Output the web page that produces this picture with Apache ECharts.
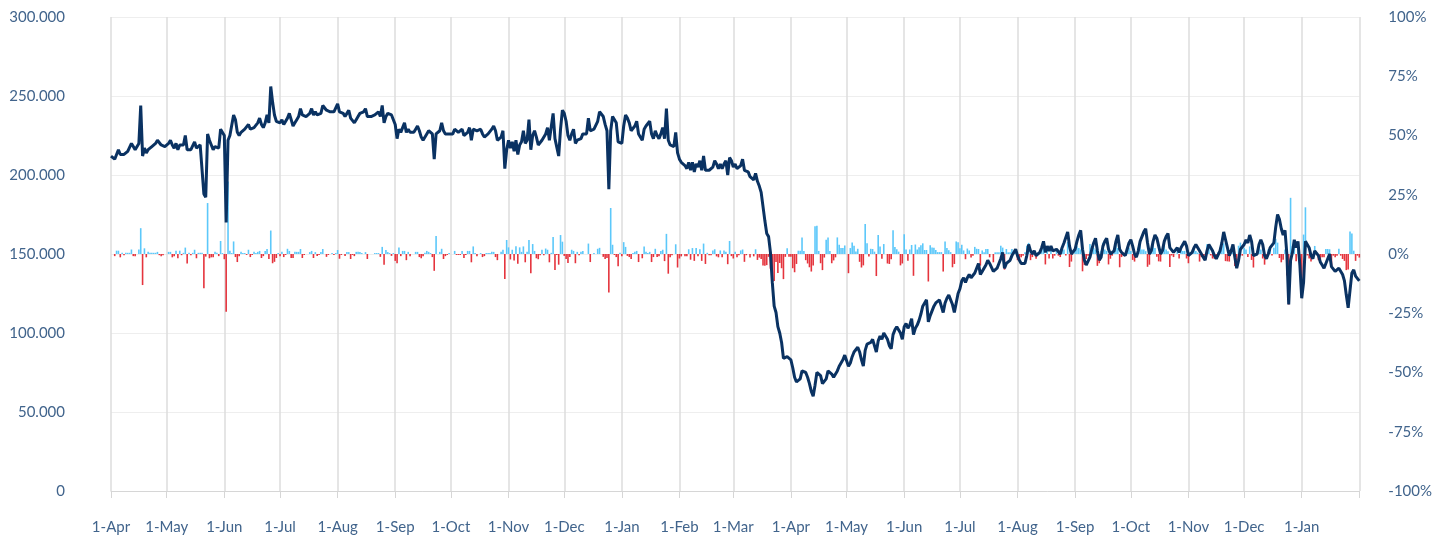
<!DOCTYPE html>
<html>
<head>
<meta charset="utf-8">
<script src="https://cdn.jsdelivr.net/npm/echarts/dist/echarts.min.js"></script>
<style>
  html, body { margin: 0; padding: 0; background: #fff; }
  #chart { width: 1435px; height: 535px; }
</style>
</head>
<body>
<div id="chart"></div>
<script>
// daily values (thousands), one array per month
var apr19 = [212,212,210,213,216,213,214,213,214,215, 216,220,218,216,216,220,244,212,217,214, 216,217,218,219,220,222,221,219,218,218]
var may19 = [218,220,222,219,217,220,216,219,218,219, 225,216,217,216,217,221,217,218,219,220, 188,186,226,222,219,216,218,219,217,229, 230]
var jun19 = [225,170,222,225,226,238,235,227,225,227, 228,229,228,232,229,228,230,231,233,236, 232,230,233,238,233,256,246,238,234,235]
var jul19 = [233,235,232,231,236,239,235,231,233,235, 237,242,238,237,237,237,239,242,238,240, 238,237,239,244,244,241,240,240,241,240, 241]
var aug19 = [245,240,239,239,237,239,241,236,235,233, 235,237,239,240,240,242,237,237,237,237, 238,239,240,237,244,233,237,239,240,238, 239]
var sep19 = [232,223,229,227,230,233,227,229,227,227, 227,229,231,228,224,222,223,226,228,229, 226,210,226,226,228,233,228,226,225,226]
var oct19 = [226,226,229,228,227,226,229,225,224,227, 230,222,229,230,228,228,229,226,224,225, 226,227,229,231,228,222,222,224,228,204, 216]
var nov19 = [222,217,221,215,222,213,219,221,228,220, 222,235,216,225,228,224,219,218,222,221, 226,230,222,223,239,223,222,212,229,241]
var dec19 = [239,234,225,222,226,229,220,222,221,223, 226,226,226,236,228,228,229,229,234,240, 240,237,232,228,191,228,237,236,233,221, 222]
var jan20 = [220,231,238,236,233,228,229,231,234,226, 226,222,229,231,232,234,226,223,228,225, 223,226,230,223,242,222,219,218,218,227, 214]
var feb20 = [210,208,208,206,204,208,203,208,202,207, 205,209,203,212,203,204,203,202,205,209, 207,204,207,204,207,209,200,211,209]
var mar20 = [205,207,204,203,206,210,203,202,202,199, 199,197,201,196,193,189,180,171,163,161, 151,132,117,113,104,100,94,84,83,85, 84]
var apr20 = [83,78,72,69,70,71,76,77,75,72, 68,63,60,67,75,76,73,68,67,71, 76,77,74,72,71,76,79,81,83,86]
var may20 = [86,79,81,85,88,89,91,88,83,79, 89,93,92,94,96,97,88,95,98,96, 100,100,96,92,90,99,102,104,105,100, 96]
var jun20 = [104,106,103,105,109,99,103,105,108,112, 117,119,121,107,111,114,117,119,120,121, 122,113,119,122,124,125,118,113,119,125]
var jul20 = [128,133,135,132,135,137,135,134,138,141, 144,137,139,140,143,146,144,144,139,140, 141,142,147,151,141,144,145,146,149,151, 153]
var aug20 = [149,146,144,143,144,149,156,152,150,152, 149,150,151,154,158,151,155,152,155,152, 151,153,152,150,154,157,156,164,155,150, 150]
var sep20 = [153,158,162,165,153,146,143,142,148,153, 157,160,152,146,148,155,158,160,153,150, 149,152,158,162,153,151,150,149,153,157]
var oct20 = [159,155,150,148,152,158,161,164,166,157, 150,152,158,162,160,155,150,152,158,161, 163,154,153,151,151,154,151,154,156,158, 155]
var nov20 = [149,150,151,154,156,157,152,150,148,146, 152,156,155,152,149,147,148,152,157,164, 159,154,149,152,156,148,141,146,153,152]
var dec20 = [156,159,157,162,158,149,148,150,156,159, 156,149,147,150,154,153,157,167,175,172, 166,162,165,150,118,146,151,159,154,158, 143]
var jan21 = [122,132,158,157,154,149,147,152,153,149, 145,143,141,144,147,150,142,141,139,138, 141,140,137,133,124,116,127,138,140,136, 135]
var feb21 = [133]

var traffic = [].concat(apr19, may19, jun19, jul19, aug19, sep19, oct19, nov19, dec19,
  jan20, feb20, mar20, apr20, may20, jun20, jul20, aug20, sep20, oct20, nov20, dec20,
  jan21, feb21)

var monthNames = ['Jan', 'Feb', 'Mar', 'Apr', 'May', 'Jun', 'Jul', 'Aug', 'Sep', 'Oct', 'Nov', 'Dec']

// one category per day, starting 1 April 2019
var dates = []
var start = Date.UTC(2019, 3, 1)
for (var i = 0; i < traffic.length; i++) {
  dates.push(new Date(start + i * 86400000).toISOString().slice(0, 10))
}

// day-on-day change in %
var change = traffic.map(function (v, i) {
  return i === 0 ? 0 : Math.round((v / traffic[i - 1] - 1) * 1000) / 10
})

var labelColor = '#41648c'
var isMonthStart = function (i, v) { return v.slice(8) === '01' }

var chart = echarts.init(document.getElementById('chart'))

var option = {
  animation: false,
  textStyle: { fontFamily: 'Lato' },
  grid: { left: 111, right: 73, top: 17, bottom: 43 },
  xAxis: {
    type: 'category',
    data: dates,
    boundaryGap: false,
    axisLine: { onZero: false, lineStyle: { color: '#d6d6d6' } },
    axisTick: { interval: isMonthStart, length: 7, lineStyle: { color: '#d6d6d6' } },
    axisLabel: {
      interval: function (i, v) { return isMonthStart(i, v) && i < dates.length - 1 },
      formatter: function (v) { return '1-' + monthNames[+v.slice(5, 7) - 1] },
      margin: 29,
      color: labelColor,
      fontSize: 15
    },
    splitLine: { show: true, interval: isMonthStart, lineStyle: { color: '#dddddd', width: 1.5 } }
  },
  yAxis: [
    {
      type: 'value',
      min: 0,
      max: 300,
      interval: 50,
      axisLine: { show: false },
      axisTick: { show: false },
      axisLabel: {
        formatter: function (v) { return v === 0 ? '0' : v + '.000' },
        margin: 46,
        color: labelColor,
        fontSize: 15,
        padding: [10, 0, 0, 0]
      },
      splitLine: { lineStyle: { color: '#eeeeee' } }
    },
    {
      type: 'value',
      position: 'right',
      min: -100,
      max: 100,
      interval: 25,
      axisLine: { show: false },
      axisTick: { show: false },
      axisLabel: {
        formatter: '{value}%',
        margin: 29,
        color: labelColor,
        fontSize: 15,
        padding: [10, 0, 0, 0]
      },
      splitLine: { show: false }
    }
  ],
  series: [
    {
      name: 'change',
      type: 'bar',
      yAxisIndex: 1,
      data: change,
      barWidth: 1.6,
      itemStyle: {
        color: function (p) { return p.value >= 0 ? '#5cc8fa' : '#e5343d' }
      }
    },
    {
      name: 'traffic',
      type: 'line',
      data: traffic,
      showSymbol: false,
      lineStyle: { color: '#0a3262', width: 3 },
      z: 3
    }
  ]
}

chart.setOption(option)
</script>
</body>
</html>
